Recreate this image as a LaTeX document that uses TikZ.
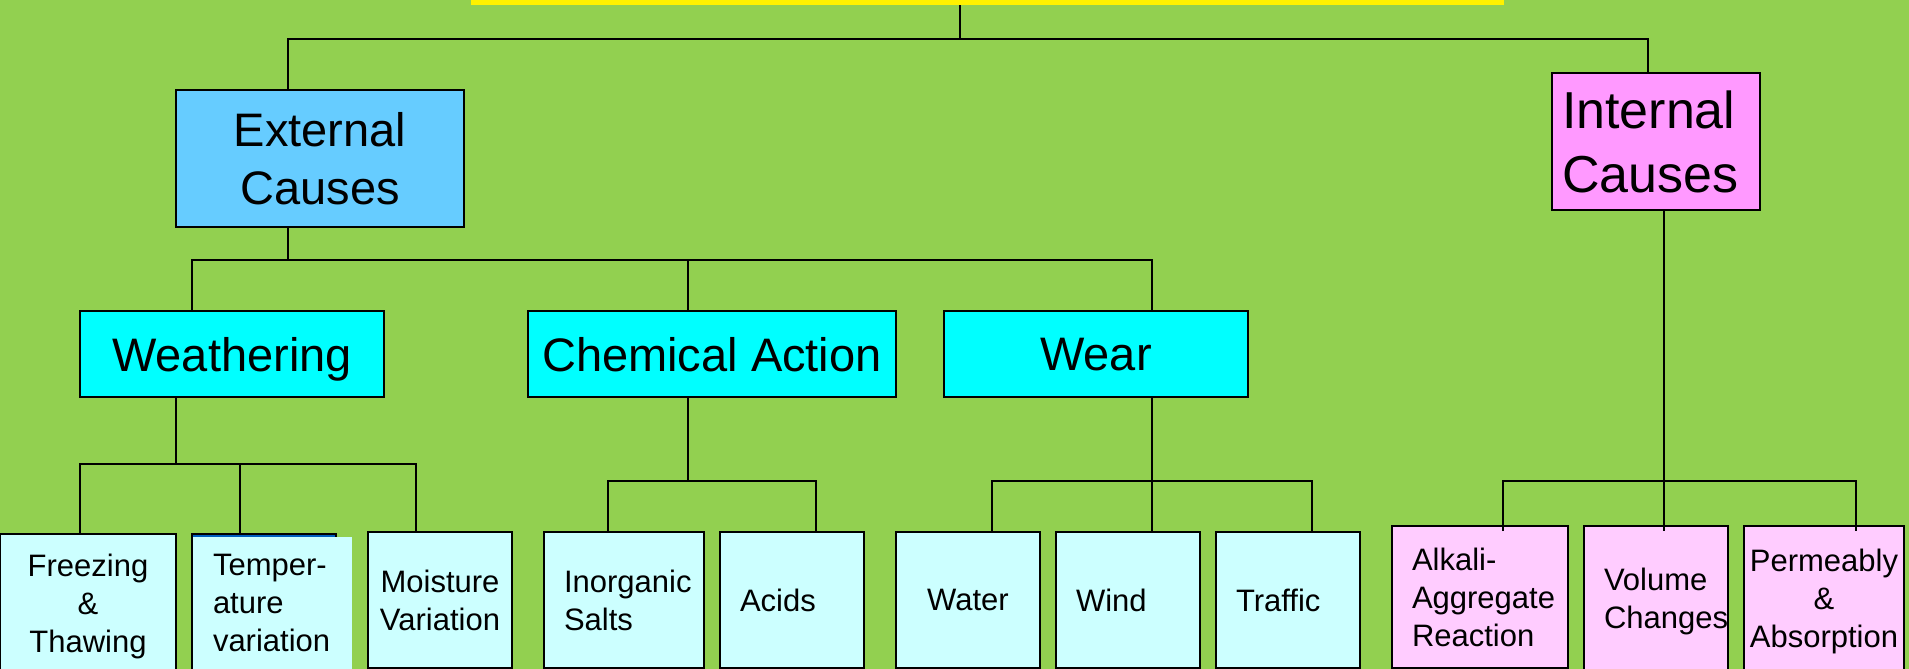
\documentclass[tikz,border=0pt]{standalone}
\usepackage{fontspec}
\setmainfont{Liberation Sans}
\usetikzlibrary{positioning,calc}
\hyphenpenalty=10000
\exhyphenpenalty=10000

\definecolor{bggreen}{RGB}{146,208,80}
\definecolor{extblue}{RGB}{102,204,255}
\definecolor{lvlcyan}{RGB}{0,255,255}
\definecolor{palecyan}{RGB}{204,255,255}
\definecolor{intpink}{RGB}{255,153,255}
\definecolor{palepink}{RGB}{255,204,255}
\definecolor{tmpblue}{RGB}{0,96,192}

\tikzset{
  box/.style={draw,line width=2pt,inner sep=0pt,font=\fontsize{31}{38}\selectfont},
  bigbox/.style={box,minimum height=137pt,font=\fontsize{47}{58}\selectfont},
  midbox/.style={box,fill=lvlcyan,minimum width=304pt,minimum height=86pt,text depth=0pt,font=\fontsize{47}{58}\selectfont},
  extleaf/.style={box,fill=palecyan,minimum width=144pt,minimum height=136pt},
  intleaf/.style={box,fill=palepink,minimum height=142pt},
  cover/.style={fill=palecyan,inner sep=0pt,font=\fontsize{31}{38}\selectfont},
  titlebar/.style={fill=yellow,minimum width=1033pt,minimum height=60pt},
  conn/.style={line width=1.6pt}
}

\begin{document}
\begin{tikzpicture}[x=1pt,y=-1pt]
	\clip (0,0) rectangle (1909,669);
	\fill[bggreen] (0,0) rectangle (1909,669);

	\node[titlebar] at (987.5,-25) (title) {};

	\node[bigbox,fill=extblue,minimum width=288pt,text width=268pt,align=center] at (320,158.5) (ext) {External\\Causes};
	\node[bigbox,fill=intpink,font=\fontsize{52}{64}\selectfont,minimum width=208pt,text width=188pt,align=left] at (1656,141.5) (int) {Internal\\Causes};

	\node[midbox] at (232,354) (weath) {Weathering};
	\node[midbox,minimum width=368pt] at (712,354) (chem) {Chemical Action};
	\node[midbox] at (1096,354) (wear) {Wear};

	\node[extleaf,minimum width=176pt,minimum height=145pt,text width=156pt,align=center] at (88,606.5) (frz) {Freezing\\\&\\Thawing};
	\node[extleaf,fill=tmpblue,minimum height=145pt] at (264,606.5) (tmp) {};
	\node[cover,minimum width=159pt,minimum height=132pt,text width=119pt,align=left] at (272.5,603) (tmpcover) {Temper-\\ature\\variation};
	\node[extleaf,text width=124pt,align=center] at (440,600) (moist) {Moisture\\Variation};
	\node[extleaf,minimum width=160pt,text width=120pt,align=left] at (624,600) (inorg) {Inorganic\\Salts};
	\node[extleaf,text width=104pt,align=left] at (792,600) (acid) {Acids};
	\node[extleaf,text width=124pt,align=center] at (968,600) (water) {Water};
	\node[extleaf,text width=104pt,align=left] at (1128,600) (wind) {Wind};
	\node[extleaf,text width=104pt,align=left] at (1288,600) (traffic) {Traffic};

	\node[intleaf,minimum width=176pt,text width=136pt,align=left] at (1480,597) (alkali) {Alkali-\\Aggregate\\Reaction};
	\node[intleaf,minimum width=144pt,minimum height=150pt,text width=104pt,align=left] at (1656,601) (volume) {Volume\\Changes};
	\node[intleaf,minimum width=160pt,minimum height=150pt,text width=150pt,align=center] at (1824,601) (perm) {Permeably\\\&\\Absorption};

	\coordinate (r0) at (960,39);
	\coordinate (e0) at (288,39);
	\coordinate (i0) at (1648,39);
	\draw[conn] (title.south -| r0) -- (r0);
	\draw[conn] (e0 |- ext.north) -- (e0) -- (i0) -- (i0 |- int.north);

	\coordinate (e1) at (288,260);
	\coordinate (w1) at (192,260);
	\coordinate (c1) at (688,260);
	\coordinate (r1) at (1152,260);
	\draw[conn] (ext.south -| e1) -- (e1);
	\draw[conn] (w1 |- weath.north) -- (w1) -- (r1) -- (r1 |- wear.north);
	\draw[conn] (c1) -- (c1 |- chem.north);

	\coordinate (w2) at (176,464);
	\coordinate (f2) at (80,464);
	\coordinate (t2) at (240,464);
	\coordinate (m2) at (416,464);
	\draw[conn] (weath.south -| w2) -- (w2);
	\draw[conn] (f2 |- frz.north) -- (f2) -- (m2) -- (m2 |- moist.north);
	\draw[conn] (t2) -- (t2 |- tmp.north);

	\coordinate (c2) at (688,481);
	\coordinate (s2) at (608,481);
	\coordinate (a2) at (816,481);
	\draw[conn] (chem.south -| c2) -- (c2);
	\draw[conn] (s2 |- inorg.north) -- (s2) -- (a2) -- (a2 |- acid.north);

	\coordinate (r2) at (1152,481);
	\coordinate (wa2) at (992,481);
	\coordinate (tr2) at (1312,481);
	\draw[conn] (wear.south -| r2) -- (r2 |- wind.north);
	\draw[conn] (wa2 |- water.north) -- (wa2) -- (tr2) -- (tr2 |- traffic.north);

	\coordinate (i2) at (1664,481);
	\coordinate (al2) at (1503,481);
	\coordinate (pe2) at (1856,481);
	\draw[conn] (int.south -| i2) -- ($(i2 |- volume.north)+(0,6)$);
	\draw[conn] ($(al2 |- alkali.north)+(0,6)$) -- (al2) -- (pe2) -- ($(pe2 |- perm.north)+(0,6)$);
\end{tikzpicture}
\end{document}
